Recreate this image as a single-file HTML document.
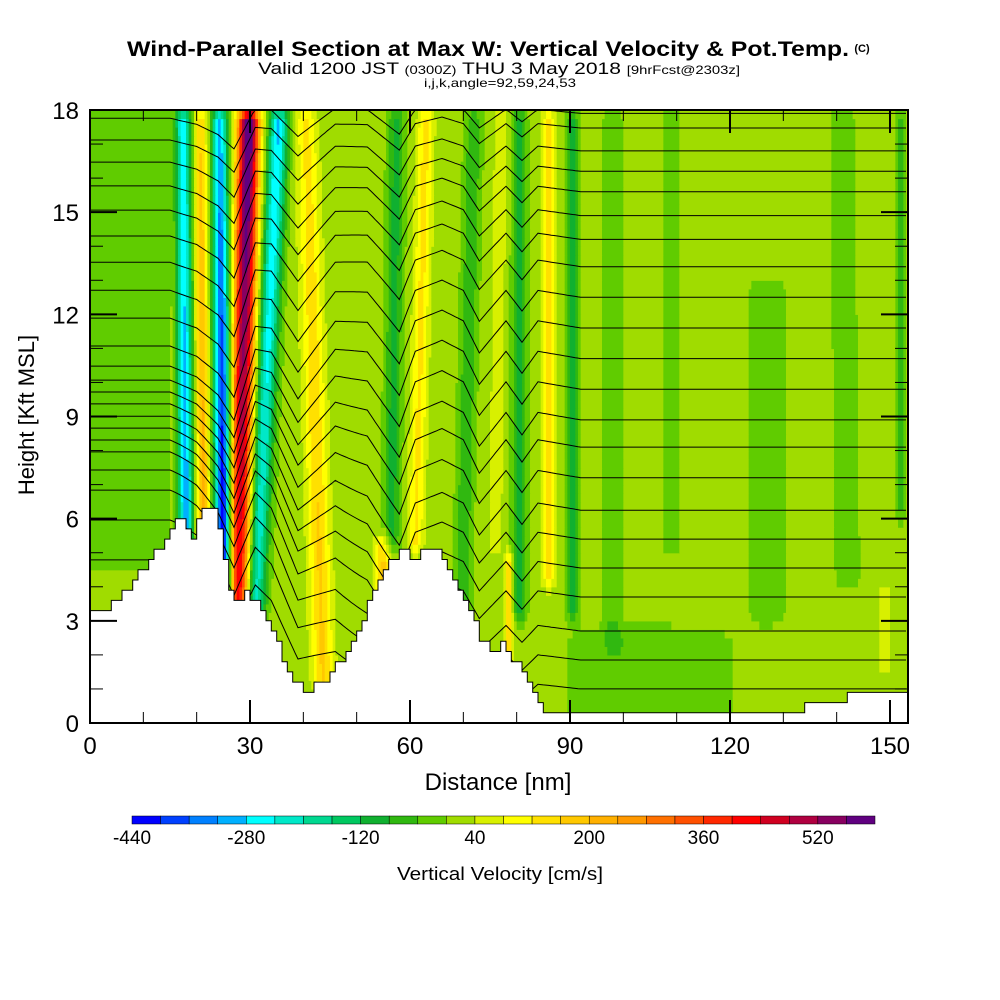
<!DOCTYPE html>
<html><head><meta charset="utf-8"><style>
body{margin:0;background:#fff;}
svg{display:block;font-family:"Liberation Sans",sans-serif;}
</style></head><body>
<svg id="chart" width="1000" height="1000" viewBox="0 0 1000 1000" xmlns="http://www.w3.org/2000/svg">
<rect x="0" y="0" width="1000" height="1000" fill="#fff"/>
<text x="127" y="56" textLength="722" lengthAdjust="spacingAndGlyphs" font-size="21" font-weight="bold">Wind-Parallel Section at Max W: Vertical Velocity &amp; Pot.Temp.</text>
<text x="862" y="52" text-anchor="middle" font-size="11" font-weight="bold">(C)</text>
<text x="258" y="74" textLength="482" lengthAdjust="spacingAndGlyphs" font-size="17">Valid 1200 JST <tspan font-size="12">(0300Z)</tspan> THU 3 May 2018 <tspan font-size="12">[9hrFcst@2303z]</tspan></text>
<text x="424" y="87" textLength="152" lengthAdjust="spacingAndGlyphs" font-size="12">i,j,k,angle=92,59,24,53</text>
<g id="field"></g>
<g id="contours"></g>
<g id="terrain"></g>
<g id="axes"></g>
<text x="498" y="790" text-anchor="middle" font-size="24">Distance [nm]</text>
<text transform="translate(34,415) rotate(-90)" text-anchor="middle" font-size="22">Height [Kft MSL]</text>
<g id="colorbar"></g>
<text x="397" y="880" textLength="206" lengthAdjust="spacingAndGlyphs" font-size="18">Vertical Velocity [cm/s]</text>
</svg>
<script>
// ---- data ----
const cbColors=["#0000ff","#0040ff","#0080ff","#00b0ff","#00ffff","#00e8c8","#00d890","#00c860","#10b030","#30b810","#60cc00","#a0dc00","#d8f000","#ffff00","#ffe000","#ffc800","#ffb000","#ff9800","#ff7000","#ff5000","#ff2800","#ff0000","#d00020","#b00040","#880060","#600080"];
const cbMin=-440, cbStep=40;
const cbLabels=[-440,-280,-120,40,200,360,520];
const xTicks=[0,30,60,90,120,150];
const yTicks=[0,3,6,9,12,15,18];
// terrain breakpoints (nm, kft)
const terrX=[0,3,6,8,10,12,14,16,18,19,20,21,22,24,25,26,27,28,30,32,34,36,38,40,42,44,46,48,50,52,54,56,58,60,61,62,64,66,68,70,72,74,76,78,79,80,82,84,86,134,135,142,143,153.5];
const terrH=[3.3,3.3,3.7,4.1,4.5,4.9,5.3,5.8,6.2,5.3,5.5,6.2,6.2,6.2,5.0,4.3,3.4,3.6,3.8,3.4,2.8,2.1,1.4,1.0,1.0,1.2,1.7,1.8,2.5,3.3,4.2,4.7,5.0,5.1,4.6,5.2,5.2,5.0,4.5,3.8,3.2,2.3,2.2,2.3,1.8,1.8,1.2,0.6,0.3,0.3,0.7,0.7,1.0,1.0];
// vertical velocity bands
const bandX5=[18,21.2,25,28,31.5,43,56.5,55,61,70,76,78.5,80.5,86,90.5,98,109,127,142,149,152,105];
const bandX18=[17.4,20.8,24.3,29.8,35.5,40.5,57.5,55,63,72,77,78.5,80.5,86,90.5,98,109,127,141,149,152,105];
const bandAmpLo=[-330,220,-480,420,-240,150,-110,150,110,-90,60,150,-110,110,-100,-55,-55,-55,-55,60,-60,-45];
const bandAmpHi=[-270,140,-300,620,-300,110,-110,0,120,-90,60,0,-110,130,-100,-55,-55,-55,-55,60,-60,-45];
const bandWidth=[1.4,1.2,1.5,2.0,1.8,2.0,1.5,1.5,1.5,1.5,1.2,0.8,1.3,1.2,1.2,1.6,1.5,3.0,2.0,1.2,1.0,15];
const bandZmin=[4,5,2,3,3,1,5,2,5,3,5,1,3,4,3,2,5,3,4,1.5,6,0];
const bandZmax=[18,18,18,18,18,18,18,5.5,18,18,18,5,18,18,18,18,18,13,18,4,18,2.8];
const bgValue=15;
// theta contour levels (kft at left and right edges)
const levelLeft=[17.76,17.12,16.47,15.77,15.06,14.30,13.53,12.71,11.89,11.07,10.48,10.07,9.72,9.37,9.01,8.66,8.31,7.96,7.43,6.84,5.96,4.79];
const levelRight=[17.9,17.47,16.8,16.2,15.6,14.9,14.2,13.4,12.5,11.6,10.7,9.8,8.9,8.1,7.2,6.25,5.4,4.55,3.7,2.7,1.85,1.0];
const waveX=[0,15,20,24,27,31,34,39,46,52,58,61,66,70,73,78,81,84,88,92,100,154];
const waveDz=[0,0,-0.3,-0.8,-1.5,0.4,0.3,-1.0,0.3,0.2,-1.0,0.2,0.5,0.2,-0.7,0.2,-0.4,0.2,0.1,0,0,0];

// ---- scales ----
const X0=90,X1=908,Y0=110,Y1=723;
const xs=n=>X0+n*(160/30);
const zs=k=>Y1-k*(613/18);
const NS="http://www.w3.org/2000/svg";
function mk(tag,attrs,parent){const e=document.createElementNS(NS,tag);for(const k in attrs)e.setAttribute(k,attrs[k]);parent.appendChild(e);return e;}
function interp(xa,ya,x){if(x<=xa[0])return ya[0];for(let i=1;i<xa.length;i++){if(x<=xa[i]){const t=(x-xa[i-1])/(xa[i]-xa[i-1]);return ya[i-1]+t*(ya[i]-ya[i-1]);}}return ya[ya.length-1];}
function sstep(a,b,v){const t=Math.max(0,Math.min(1,(v-a)/(b-a)));return t*t*(3-2*t);}
function field(x,z){
  let w=bgValue;
  if(x<15&&z>4.5) w=-20;
  for(let i=0;i<bandX5.length;i++){
    const tz=(z-5)/13;
    const cx=bandX5[i]+(bandX18[i]-bandX5[i])*tz;
    const a=bandAmpLo[i]+(bandAmpHi[i]-bandAmpLo[i])*Math.max(0,Math.min(1,tz));
    const taper=sstep(bandZmin[i]-0.4,bandZmin[i]+0.4,z)*(1-sstep(bandZmax[i]-0.4,bandZmax[i]+0.4,z));
    const d=(x-cx)/bandWidth[i];
    w+=a*Math.exp(-d*d)*taper;
  }
  return w;
}
function colorOf(w){let i=Math.floor((w-cbMin)/cbStep);i=Math.max(0,Math.min(cbColors.length-1,i));return cbColors[i];}

// ---- field ----
const fg=document.getElementById('field');
const dx=0.5,dz=0.25,xmax=153.4;
for(let z=0;z<18;z+=dz){
  let runStart=0,runCol=null;
  const flush=(xe)=>{if(runCol){const r=mk('rect',{x:xs(runStart).toFixed(2),y:zs(z+dz).toFixed(2),width:(xs(xe)-xs(runStart)+0.6).toFixed(2),height:(zs(z)-zs(z+dz)+0.6).toFixed(2),fill:runCol},fg);
    
    }};
  for(let x=0;x<xmax;x+=dx){
    const c=colorOf(field(x+dx/2,z+dz/2));
    if(c!==runCol){flush(x);runStart=x;runCol=c;}
  }
  flush(xmax);
}
// ---- contours ----
const cg=document.getElementById('contours');
for(let l=0;l<levelLeft.length;l++){
  let pts=[];
  for(let x=0;x<=xmax;x+=0.5){
    const t=sstep(15,60,x);
    const base=levelLeft[l]+(levelRight[l]-levelLeft[l])*t;
    const f=0.6+0.5*Math.sin(Math.PI*Math.min(1,Math.max(0,base/18)));
    const z=base+interp(waveX,waveDz,x)*f;
    pts.push(xs(x).toFixed(1)+','+Math.max(Y0,zs(z)).toFixed(1));
  }
  const p=mk('polyline',{points:pts.join(' '),fill:'none',stroke:'#000','stroke-width':1},cg);
  
  
}
// ---- terrain (stepped) ----
const tg=document.getElementById('terrain');
let d='M'+xs(0)+','+Y1;
for(let x=0;x<xmax;x+=1){
  const h=Math.round(interp(terrX,terrH,x+0.5)/0.3)*0.3;
  d+=' L'+xs(x).toFixed(1)+','+zs(h).toFixed(1)+' L'+xs(Math.min(x+1,xmax)).toFixed(1)+','+zs(h).toFixed(1);
}
d+=' L'+X1+','+Y1+' Z';
const tp=mk('path',{d:d,fill:'#fff',stroke:'#000','stroke-width':1},tg);


// ---- axes ----
const ag=document.getElementById('axes');
const frame=mk('rect',{x:X0,y:Y0,width:X1-X0,height:Y1-Y0,fill:'none',stroke:'#000','stroke-width':2},ag);


for(let n=0;n<=150;n+=10){
  const major=n%30===0, L=major?23:11, X=xs(n);
  const t1=mk('line',{x1:X,y1:Y1,x2:X,y2:Y1-L,stroke:'#000','stroke-width':major?2:1},ag);
  
  
  const t2=mk('line',{x1:X,y1:Y0,x2:X,y2:Y0+L,stroke:'#000','stroke-width':major?2:1},ag);
  
  
}
xTicks.forEach(v=>{const t=mk('text',{x:xs(v),y:754,'text-anchor':'middle','font-size':24},ag);t.textContent=v;
  
  });
for(let k=0;k<=18;k++){
  const major=k%3===0, L=major?27:13, Y=zs(k);
  const t1=mk('line',{x1:X0,y1:Y,x2:X0+L,y2:Y,stroke:'#000','stroke-width':major?2:1},ag);
  
  
  const t2=mk('line',{x1:X1,y1:Y,x2:X1-L,y2:Y,stroke:'#000','stroke-width':major?2:1},ag);
  
  
}
yTicks.forEach(v=>{const t=mk('text',{x:79,y:zs(v)+9,'text-anchor':'end','font-size':24},ag);t.textContent=v;
  
  });
// ---- colorbar ----
const cbg=document.getElementById('colorbar');
const cbX=132,cbW=743/cbColors.length;
cbColors.forEach((c,i)=>{const r=mk('rect',{x:(cbX+i*cbW).toFixed(2),y:816,width:cbW.toFixed(2),height:8,fill:c,stroke:'#000','stroke-width':0.5},cbg);
  
  });
cbLabels.forEach(v=>{const t=mk('text',{x:(cbX+(v-cbMin)/cbStep*cbW).toFixed(1),y:844,'text-anchor':'middle','font-size':19},cbg);t.textContent=v;
  
  });
</script>
</body></html>
